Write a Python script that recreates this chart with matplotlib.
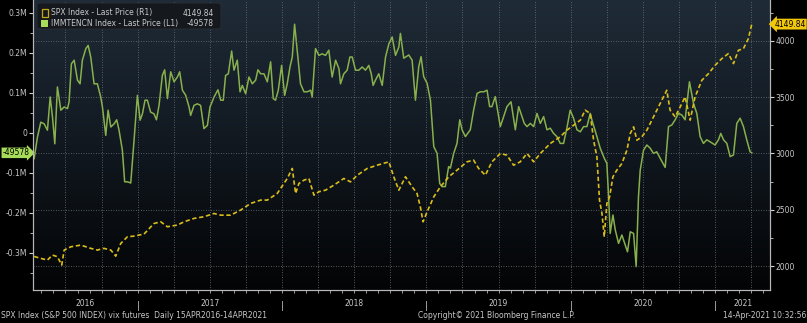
import numpy as np
import matplotlib
matplotlib.use("Agg")
import matplotlib.pyplot as plt
from matplotlib.colors import LinearSegmentedColormap
from matplotlib.patches import FancyBboxPatch, Rectangle
from matplotlib.transforms import blended_transform_factory

# IMMTENCN Index (left axis, contracts) - decimal year / value
green_t = [2016.283, 2016.306, 2016.329, 2016.352, 2016.375, 2016.394, 2016.410, 2016.426, 2016.444, 2016.468,
           2016.491, 2016.514, 2016.525, 2016.541, 2016.560, 2016.583, 2016.601, 2016.617, 2016.641, 2016.657,
           2016.675, 2016.698, 2016.721, 2016.744, 2016.756, 2016.779, 2016.795, 2016.814, 2016.837, 2016.855,
           2016.871, 2016.894, 2016.910, 2016.929, 2016.952, 2016.975, 2016.998, 2017.017, 2017.033, 2017.051,
           2017.067, 2017.090, 2017.113, 2017.130, 2017.148, 2017.171, 2017.187, 2017.206, 2017.229, 2017.252,
           2017.275, 2017.291, 2017.310, 2017.333, 2017.356, 2017.367, 2017.390, 2017.413, 2017.436, 2017.459,
           2017.483, 2017.501, 2017.529, 2017.556, 2017.575, 2017.593, 2017.609, 2017.628, 2017.651, 2017.667,
           2017.690, 2017.709, 2017.725, 2017.748, 2017.771, 2017.794, 2017.817, 2017.833, 2017.852, 2017.875,
           2017.898, 2017.921, 2017.939, 2017.955, 2017.974, 2017.997, 2018.018, 2018.036, 2018.055, 2018.071,
           2018.087, 2018.105, 2018.128, 2018.152, 2018.175, 2018.198, 2018.209, 2018.232, 2018.255, 2018.278,
           2018.301, 2018.324, 2018.347, 2018.371, 2018.394, 2018.405, 2018.428, 2018.451, 2018.470, 2018.486,
           2018.509, 2018.532, 2018.555, 2018.578, 2018.601, 2018.618, 2018.631, 2018.647, 2018.670, 2018.694,
           2018.717, 2018.740, 2018.763, 2018.786, 2018.809, 2018.820, 2018.843, 2018.878, 2018.901, 2018.924,
           2018.947, 2018.963, 2018.981, 2019.005, 2019.028, 2019.051, 2019.074, 2019.092, 2019.108, 2019.131,
           2019.154, 2019.166, 2019.189, 2019.212, 2019.231, 2019.247, 2019.270, 2019.304, 2019.327, 2019.351,
           2019.374, 2019.397, 2019.420, 2019.438, 2019.454, 2019.477, 2019.512, 2019.535, 2019.558, 2019.586,
           2019.616, 2019.639, 2019.662, 2019.678, 2019.697, 2019.720, 2019.743, 2019.766, 2019.789, 2019.812,
           2019.835, 2019.858, 2019.881, 2019.904, 2019.927, 2019.950, 2019.973, 2019.996, 2020.019, 2020.043,
           2020.066, 2020.089, 2020.112, 2020.135, 2020.146, 2020.181, 2020.204, 2020.232, 2020.250, 2020.262,
           2020.273, 2020.292, 2020.308, 2020.331, 2020.354, 2020.377, 2020.393, 2020.412, 2020.435, 2020.453,
           2020.469, 2020.481, 2020.504, 2020.527, 2020.550, 2020.573, 2020.596, 2020.619, 2020.654, 2020.677,
           2020.700, 2020.723, 2020.746, 2020.769, 2020.792, 2020.822, 2020.850, 2020.873, 2020.896, 2020.919,
           2020.942, 2020.965, 2021.000, 2021.023, 2021.039, 2021.058, 2021.081, 2021.104, 2021.127, 2021.150,
           2021.173, 2021.196, 2021.219, 2021.242, 2021.254]
green_k = [-64, -10, 27, 23, 7, 90, 40, -27, 115, 57,
           65, 61, 78, 173, 182, 132, 123, 182, 211, 219,
           190, 123, 123, 90, 65, -6, 57, 15, 23, 33,
           7, -43, -122, -122, -125, -18, 94, 32, 48, 82,
           82, 52, 48, 33, 69, 144, 158, 86, 153, 128,
           140, 153, 107, 94, 65, 44, 69, 73, 69, 11,
           19, 65, 90, 108, 82, 82, 144, 148, 205, 157,
           182, 103, 119, 98, 140, 123, 132, 158, 148, 148,
           128, 178, 86, 82, 107, 169, 94, 123, 165, 190,
           272, 207, 123, 103, 103, 107, 90, 211, 194, 198,
           194, 207, 140, 182, 161, 123, 148, 157, 190, 190,
           157, 157, 165, 157, 169, 148, 119, 132, 148, 119,
           190, 223, 240, 194, 215, 249, 187, 195, 182, 82,
           166, 191, 141, 124, 82, -34, -51, -126, -134, -134,
           -84, -88, -51, -26, 33, 8, -9, 8, 57, 99,
           103, 103, 107, 66, 66, 91, 16, 41, 66, 78,
           8, 66, 41, 24, 16, 24, 16, 49, 24, 41,
           8, 12, -1, -9, -26, -26, 12, 57, 37, 8,
           3, 16, 16, 49, 33, -9, -38, -63, -76, -159,
           -251, -205, -242, -276, -255, -280, -297, -247, -251, -334,
           -159, -93, -43, -30, -38, -51, -47, -63, -86, 16,
           20, 33, 49, 45, 33, 128, 74, 49, -9, -26,
           -17, -22, -30, -17, -1, -17, -26, -59, -55, 24,
           37, 16, -17, -47, -49.578]

# SPX Index (right axis) - decimal year / price
spx_t = [2016.283, 2016.329, 2016.375, 2016.410, 2016.444, 2016.474, 2016.491, 2016.537, 2016.606, 2016.675,
         2016.721, 2016.767, 2016.814, 2016.848, 2016.883, 2016.929, 2016.975, 2017.044, 2017.113, 2017.160,
         2017.206, 2017.275, 2017.321, 2017.390, 2017.459, 2017.529, 2017.575, 2017.644, 2017.713, 2017.782,
         2017.852, 2017.898, 2017.967, 2018.036, 2018.071, 2018.094, 2018.117, 2018.152, 2018.186, 2018.221,
         2018.255, 2018.301, 2018.359, 2018.428, 2018.474, 2018.521, 2018.590, 2018.659, 2018.740, 2018.774,
         2018.809, 2018.855, 2018.901, 2018.935, 2018.958, 2018.977, 2019.005, 2019.051, 2019.097, 2019.155,
         2019.212, 2019.281, 2019.327, 2019.362, 2019.408, 2019.454, 2019.512, 2019.558, 2019.604, 2019.650,
         2019.697, 2019.743, 2019.789, 2019.858, 2019.927, 2019.973, 2020.020, 2020.066, 2020.100, 2020.135,
         2020.158, 2020.181, 2020.199, 2020.216, 2020.232, 2020.250, 2020.269, 2020.292, 2020.319, 2020.354,
         2020.389, 2020.412, 2020.435, 2020.458, 2020.492, 2020.527, 2020.573, 2020.619, 2020.665, 2020.688,
         2020.723, 2020.758, 2020.792, 2020.827, 2020.861, 2020.908, 2020.954, 2021.000, 2021.046, 2021.092,
         2021.127, 2021.161, 2021.196, 2021.230, 2021.254]
spx_px = [2085, 2068, 2053, 2097, 2083, 2009, 2142, 2171, 2186, 2157,
          2142, 2157, 2142, 2088, 2201, 2260, 2266, 2284, 2378, 2393,
          2349, 2364, 2393, 2423, 2438, 2467, 2452, 2452, 2497, 2556,
          2586, 2586, 2645, 2778, 2867, 2645, 2734, 2763, 2778, 2630,
          2660, 2674, 2719, 2778, 2748, 2807, 2867, 2896, 2926, 2793,
          2674, 2793, 2704, 2645, 2526, 2393, 2482, 2615, 2704, 2793,
          2852, 2926, 2941, 2867, 2807, 2926, 3000, 2985, 2896, 2926,
          3000, 2926, 3000, 3089, 3148, 3207, 3251, 3296, 3385, 3355,
          3118, 2970, 2586, 2467, 2260, 2556, 2615, 2793, 2852, 2911,
          3030, 3177, 3237, 3118, 3148, 3207, 3325, 3444, 3562, 3385,
          3325, 3414, 3503, 3296, 3503, 3651, 3710, 3784, 3843, 3888,
          3799, 3917, 3932, 4021, 4149.84]

years = [2016, 2017, 2018, 2019, 2020, 2021]
left_ticks = [300, 200, 100, 0, -100, -200, -300]
left_labels = ['0.3M', '0.2M', '0.1M', '0', '-0.1M', '-0.2M', '-0.3M']
right_ticks = [2000, 2500, 3000, 3500, 4000]

GREEN = '#88b04c'
YELLOW = '#d9bd1a'
TXT = '#c8c8c8'
FS = 5.5

fig = plt.figure(figsize=(8.07, 3.23), dpi=100, facecolor='black')
ax = fig.add_axes([33 / 807, 1 - 290 / 323, 737 / 807, 290 / 323])
ax2 = ax.twinx()

# background gradient
cmap = LinearSegmentedColormap.from_list('bg', ['#030405', '#111820', '#1f2b37'])
ax.imshow(np.linspace(0, 1, 256).reshape(-1, 1), extent=[0, 1, 0, 1], transform=ax.transAxes,
          cmap=cmap, aspect='auto', origin='lower', zorder=0)

ax.plot(green_t, green_k, color=GREEN, linewidth=1.1, zorder=3)
ax2.plot(spx_t, spx_px, color=YELLOW, linewidth=1.2, linestyle=(0, (2.6, 1.6)), zorder=3)

x0, x1 = 2016.275, 2021.38
ax.set_xlim(x0, x1)
ax.set_ylim(-392.5, 332.5)
ax2.set_ylim(1787, 4364)

# grid: quarterly verticals, horizontals at right axis ticks
for q in np.arange(2016.5, 2021.3, 0.25):
    ax.axvline(q, color='#6c747c', linestyle=(0, (1, 2)), linewidth=0.6, zorder=1)
for v in right_ticks:
    ax2.axhline(v, color='#6c747c', linestyle=(0, (1, 2)), linewidth=0.6, zorder=1)

for a in (ax, ax2):
    for s in a.spines.values():
        s.set_color('#b8b8b8')
        s.set_linewidth(0.8)
    a.spines['top'].set_visible(False)

ax.set_yticks(left_ticks)
ax.set_yticklabels(left_labels)
ax.set_yticks([250, 150, 50, -50, -150, -250, -350], minor=True)
ax2.set_yticks(right_ticks)
ax2.set_yticklabels([str(v) for v in right_ticks])
ax2.set_yticks([2250, 2750, 3250, 3750, 4250], minor=True)

ax.set_xticks([])
months = [y + m / 12 for y in range(2016, 2022) for m in range(12)]
ax.set_xticks([m for m in months if x0 <= m <= x1], minor=True)
ax.tick_params(axis='x', which='minor', length=2, color='#b8b8b8', width=0.6)
ax.tick_params(axis='y', which='major', length=3, color='#d0d0d0', labelcolor=TXT, labelsize=FS, pad=1)
ax.tick_params(axis='y', which='minor', length=2, color='#d0d0d0')
ax2.tick_params(axis='y', which='major', length=3, color='#d0d0d0', labelcolor=TXT, labelsize=FS, pad=1)
ax2.tick_params(axis='y', which='minor', length=2, color='#d0d0d0')

# year labels and separators below the axis
tx = blended_transform_factory(ax.transData, fig.transFigure)
for y in years:
    lo, hi = max(y, x0), min(y + 1, x1)
    if y > 2016:
        ax.plot([y, y], [1 - 301 / 323, 1 - 310 / 323], transform=tx, color='#9a9a9a',
                linewidth=0.7, clip_on=False)
    ax.text((lo + hi) / 2, 1 - 303 / 323, str(y), transform=tx, ha='center', va='center',
            color=TXT, fontsize=FS)

# last value tags
tl = blended_transform_factory(ax.transAxes, ax.transData)
ax.text(-0.005, green_k[-1], '-49578', transform=tl, ha='right', va='center', fontsize=FS,
        color='black', bbox=dict(boxstyle='rarrow,pad=0.1', fc='#a6dc5a', ec='none'), zorder=6)
tr = blended_transform_factory(ax2.transAxes, ax2.transData)
ax2.text(1.006, spx_px[-1], '4149.84', transform=tr, ha='left', va='center', fontsize=FS,
         color='black', bbox=dict(boxstyle='larrow,pad=0.12', fc='#f2c80c', ec='none'), zorder=6)

# legend box
fig.patches.append(FancyBboxPatch((37 / 807, 1 - 29 / 323), 184 / 807, 26 / 323,
                                  boxstyle='round,pad=0,rounding_size=0.006', transform=fig.transFigure,
                                  fc='#15191e', ec='#2a3038', lw=0.6, zorder=5))
fig.patches.append(Rectangle((41.5 / 807, 1 - 16.5 / 323), 6 / 807, 7 / 323, transform=fig.transFigure,
                             fc='none', ec='#c8a810', lw=0.9, zorder=6))
fig.patches.append(Rectangle((41 / 807, 1 - 27 / 323), 7 / 807, 7 / 323, transform=fig.transFigure,
                             fc='#a6dc5a', ec='none', zorder=6))
fig.text(51 / 807, 1 - 13 / 323, 'SPX Index - Last Price (R1)', ha='left', va='center',
         color=TXT, fontsize=FS, zorder=7)
fig.text(214 / 807, 1 - 13 / 323, '4149.84', ha='right', va='center', color=TXT, fontsize=FS, zorder=7)
fig.text(51 / 807, 1 - 23.5 / 323, 'IMMTENCN Index - Last Price (L1)', ha='left', va='center',
         color=TXT, fontsize=FS, zorder=7)
fig.text(214 / 807, 1 - 23.5 / 323, '-49578', ha='right', va='center', color=TXT, fontsize=FS, zorder=7)

# footer
fy = 1 - 316 / 323
fig.text(1 / 807, fy, 'SPX Index (S&P 500 INDEX) vix futures  Daily 15APR2016-14APR2021',
         ha='left', va='center', color=TXT, fontsize=FS)
fig.text(418 / 807, fy, 'Copyright\u00a9 2021 Bloomberg Finance L.P.', ha='left', va='center',
         color=TXT, fontsize=FS)
fig.text(806 / 807, fy, '14-Apr-2021 10:32:56', ha='right', va='center', color=TXT, fontsize=FS)

fig.savefig('out.png', dpi=100, facecolor='black')
